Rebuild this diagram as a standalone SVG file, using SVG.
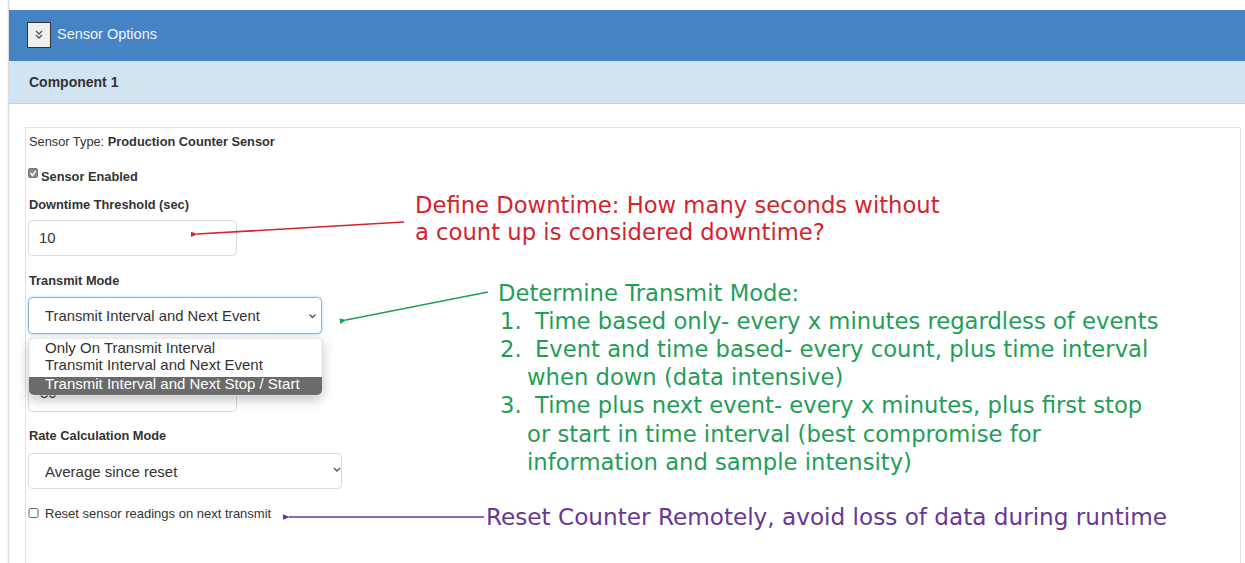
<svg xmlns="http://www.w3.org/2000/svg" width="1245" height="563" viewBox="0 0 1245 563">
<defs>
<style>
.ui{font-family:"Liberation Sans",Arial,sans-serif;fill:#333}
.lbl{font-family:"Liberation Sans",Arial,sans-serif;font-weight:bold;font-size:12.8px;fill:#333}
.box{fill:#fff;stroke:#d9d9d9;stroke-width:1}
.ann{font-family:"DejaVu Sans",Verdana,sans-serif;font-size:22.7px}
.red{fill:#d3232c}
.green{fill:#1f9e58}
.purple{fill:#6a3696}
.chev{fill:none;stroke:#555;stroke-width:1.4}
</style>
<marker id="ahR" viewBox="0 0 10 10" refX="1" refY="5" markerWidth="7" markerHeight="7" orient="auto-start-reverse" markerUnits="userSpaceOnUse"><path d="M0,5 L10,1 L10,9 Z" fill="#d3232c"/></marker>
<marker id="ahG" viewBox="0 0 10 10" refX="1" refY="5" markerWidth="7" markerHeight="7" orient="auto-start-reverse" markerUnits="userSpaceOnUse"><path d="M0,5 L10,1 L10,9 Z" fill="#1f9e58"/></marker>
<marker id="ahP" viewBox="0 0 10 10" refX="1" refY="5" markerWidth="7" markerHeight="7" orient="auto-start-reverse" markerUnits="userSpaceOnUse"><path d="M0,5 L10,1 L10,9 Z" fill="#6a3696"/></marker>
<filter id="sh" x="-20%" y="-30%" width="140%" height="180%"><feDropShadow dx="0" dy="4" stdDeviation="6" flood-color="#000" flood-opacity="0.25"/></filter>
<filter id="glow" x="-10%" y="-30%" width="120%" height="160%"><feDropShadow dx="0" dy="0" stdDeviation="1.5" flood-color="#66afe9" flood-opacity="0.6"/></filter>
</defs>
<rect width="1245" height="563" fill="#fff"/>
<g id="page">
<line x1="8.5" y1="0" x2="8.5" y2="563" stroke="#dcdcdc" stroke-width="1.5"/>
<rect x="9" y="10" width="1236" height="51" fill="#4683c5"/>
<rect x="9" y="61" width="1236" height="42" fill="#d2e4f2"/>
<line x1="9" y1="103.5" x2="1245" y2="103.5" stroke="#c3d3df"/>
<rect x="25.5" y="127.5" width="1215" height="440" fill="#fff" stroke="#e2e2e2"/>
</g>
<g id="header">
<rect x="27.5" y="22.5" width="23" height="25" fill="#efefef" stroke="#333" stroke-width="1"/>
<polyline class="chev" points="36,31 39,34 42,31" stroke-width="1"/>
<polyline class="chev" points="36,35 39,38 42,35" stroke-width="1"/>
<text x="57" y="39" class="ui" font-size="14.5" fill="#eef4fb" style="fill:#eef4fb">Sensor Options</text>
</g>
<g id="component">
<text x="29" y="87" class="ui" font-size="14" font-weight="bold">Component 1</text>
</g>
<g id="sensor-type">
<text x="29" y="146" class="ui" font-size="12.8">Sensor Type: <tspan font-weight="bold">Production Counter Sensor</tspan></text>
</g>
<g id="sensor-enabled">
<rect x="28.5" y="168.5" width="9" height="9" rx="1.5" fill="#8a8a8a" stroke="#777"/>
<polyline points="30.5,173 32.5,175.5 35.8,170.8" fill="none" stroke="#fff" stroke-width="1.4"/>
<text x="41" y="181" class="lbl">Sensor Enabled</text>
</g>
<g id="downtime">
<text x="29" y="209" class="lbl">Downtime Threshold (sec)</text>
<rect class="box" x="28.5" y="220.5" width="208" height="35" rx="4"/>
<text x="39" y="243" class="ui" font-size="15">10</text>
</g>
<g id="transmit-mode">
<text x="29" y="285" class="lbl">Transmit Mode</text>
<rect x="28.5" y="297.5" width="293" height="36" rx="4" fill="#fff" stroke="#8fb6da" filter="url(#glow)"/>
<text x="45" y="321" class="ui" font-size="14.8">Transmit Interval and Next Event</text>
<polyline class="chev" points="309.5,314.5 312.5,317.5 315.5,314.5"/>
<rect class="box" x="28.5" y="376.5" width="208" height="35" rx="4"/>
<text x="40" y="398" class="ui" font-size="15">30</text>
<g filter="url(#sh)">
<path d="M33,338 H318 A4,4 0 0 1 322,342 V390 A5,5 0 0 1 317,395 H34 A5,5 0 0 1 29,390 V342 A4,4 0 0 1 33,338 Z" fill="#fff" stroke="#d8d8d8" stroke-width="0.8"/>
</g>
<path d="M29,377 H322 V390 A5,5 0 0 1 317,395 H34 A5,5 0 0 1 29,390 Z" fill="#6b6b6b"/>
<text x="45" y="353" class="ui" font-size="15">Only On Transmit Interval</text>
<text x="45" y="370" class="ui" font-size="15">Transmit Interval and Next Event</text>
<text x="45" y="389" class="ui" font-size="15" style="fill:#fff">Transmit Interval and Next Stop / Start</text>
</g>
<g id="rate-mode">
<text x="29" y="440" class="lbl">Rate Calculation Mode</text>
<rect class="box" x="28.5" y="453.5" width="313" height="35" rx="4"/>
<text x="45" y="477" class="ui" font-size="15">Average since reset</text>
<polyline class="chev" points="334,468 337,471 340,468"/>
</g>
<g id="reset">
<rect x="29" y="508.5" width="9" height="9" rx="1.5" fill="#fff" stroke="#666"/>
<text x="45" y="518" class="ui" font-size="13">Reset sensor readings on next transmit</text>
</g>
<g id="connectors">
<line x1="404" y1="222" x2="197" y2="234" stroke="#d3232c" stroke-width="1.6" marker-end="url(#ahR)"/>
<line x1="488" y1="292" x2="346" y2="320" stroke="#1f9e58" stroke-width="1.6" marker-end="url(#ahG)"/>
<line x1="484" y1="517" x2="289" y2="517" stroke="#6a3696" stroke-width="1.6" marker-end="url(#ahP)"/>
</g>
<g id="note-downtime" class="ann red">
<text x="415" y="213">Define Downtime: How many seconds without</text>
<text x="415" y="240">a count up is considered downtime?</text>
</g>
<g id="note-transmit" class="ann green">
<text x="498" y="301">Determine Transmit Mode:</text>
<text x="500" y="329">1.</text>
<text x="535" y="329">Time based only- every x minutes regardless of events</text>
<text x="500" y="357">2.</text>
<text x="535" y="357">Event and time based- every count, plus time interval</text>
<text x="527" y="385">when down (data intensive)</text>
<text x="500" y="413">3.</text>
<text x="535" y="413">Time plus next event- every x minutes, plus first stop</text>
<text x="527" y="442">or start in time interval (best compromise for</text>
<text x="527" y="470">information and sample intensity)</text>
</g>
<g id="note-reset" class="ann purple">
<text x="486" y="525" textLength="681" lengthAdjust="spacingAndGlyphs">Reset Counter Remotely, avoid loss of data during runtime</text>
</g>
</svg>
